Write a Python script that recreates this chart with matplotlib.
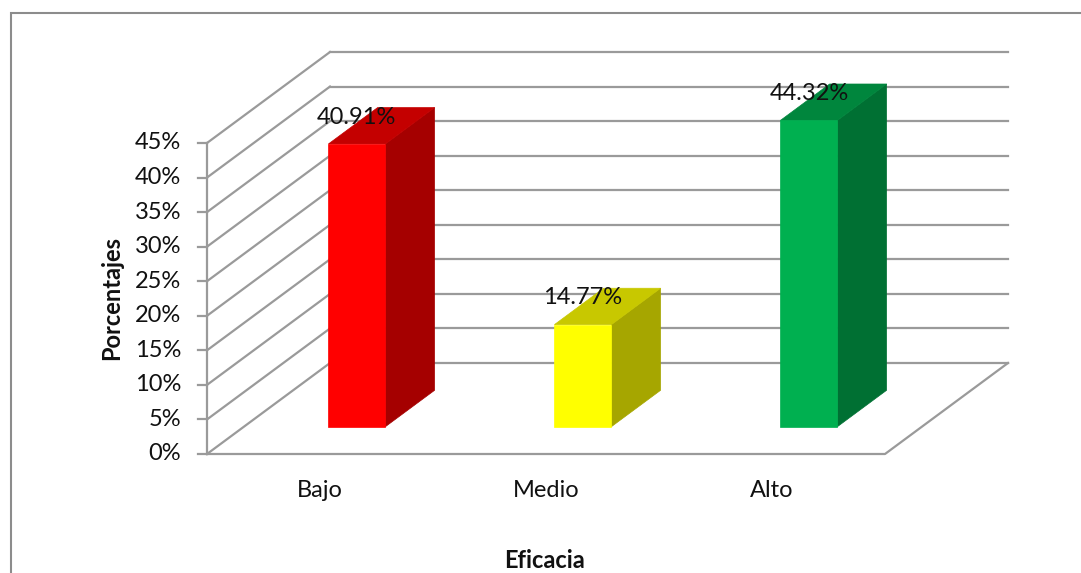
import matplotlib
matplotlib.use("Agg")
import matplotlib.pyplot as plt
from matplotlib.patches import Polygon, Rectangle

# ---- data ----
categories = ["Bajo", "Medio", "Alto"]
values = [40.91, 14.77, 44.32]
value_labels = ["40.91%", "14.77%", "44.32%"]
ticks = [0, 5, 10, 15, 20, 25, 30, 35, 40, 45]
tick_labels = ["0%", "5%", "10%", "15%", "20%", "25%", "30%", "35%", "40%", "45%"]
front_colors = ["#FF0000", "#FFFF00", "#00B050"]
side_colors = ["#A50000", "#A6A600", "#007033"]
top_colors = ["#C40000", "#C8C800", "#00863D"]

plt.rcParams['font.family'] = ['Lato', 'DejaVu Sans']
FS = 17

W, H = 1081, 573
fig = plt.figure(figsize=(W / 100, H / 100), dpi=100)

# outer chart border
fig.patches.append(Rectangle((11 / W, -0.1), 1.2, (573 - 13) / H + 0.1,
                             transform=fig.transFigure, fill=False,
                             edgecolor="#8C8C8C", linewidth=1.5))

# front plane of the plot in pixels: x 207..885, y 454 (0%) .. 143 (45%)
ax = fig.add_axes([207 / W, (H - 454) / H, 678 / W, 311 / H])
ax.set_xlim(-0.5, 2.5)
ax.set_ylim(0, 45)
ax.axis("off")

# oblique depth projection (full depth in data units)
DX = 123 / 226.0      # categories
DY = 91 / (311 / 45)  # percent


def P(x, y, d):
    return (x + d * DX, y + d * DY)


grid_kw = dict(color="#9A9A9A", linewidth=1.6, clip_on=False, zorder=1)
xmin, xmax = -0.5, 2.5
# back wall gridlines and left wall diagonals
for t in ticks:
    a = P(xmin, t, 0)
    b = P(xmin, t, 1)
    c = P(xmax, t, 1)
    ax.plot([a[0], b[0]], [a[1], b[1]], **grid_kw)
    ax.plot([b[0], c[0]], [b[1], c[1]], **grid_kw)
# floor front edge & right edge
a = P(xmin, 0, 0); b = P(xmax, 0, 0); c = P(xmax, 0, 1)
ax.plot([a[0], b[0], c[0]], [a[1], b[1], c[1]], **grid_kw)
# front vertical axis
ax.plot([xmin, xmin], [0, 45], **grid_kw)
# tick marks and labels
for t, lab in zip(ticks, tick_labels):
    ax.plot([xmin - 0.04, xmin], [t, t], **grid_kw)
    ax.text(xmin - 0.115, t, lab, ha="right", va="center", fontsize=FS,
            color="#111111")

# bars
d0, d1 = 0.30, 0.70
bw = 0.252
for i, (v, fc, sc, tc, lab) in enumerate(zip(values, front_colors, side_colors,
                                             top_colors, value_labels)):
    x0, x1 = i - bw / 2, i + bw / 2
    front = [P(x0, 0, d0), P(x1, 0, d0), P(x1, v, d0), P(x0, v, d0)]
    side = [P(x1, 0, d0), P(x1, 0, d1), P(x1, v, d1), P(x1, v, d0)]
    top = [P(x0, v, d0), P(x1, v, d0), P(x1, v, d1), P(x0, v, d1)]
    for poly, col in ((side, sc), (top, tc), (front, fc)):
        ax.add_patch(Polygon(poly, closed=True, facecolor=col, edgecolor=col,
                             linewidth=0.5, clip_on=False, zorder=3))
    cx, cy = P(i, v, d0)
    ax.text(cx, cy + 3.9, lab, ha="center", va="center", fontsize=FS,
            color="#111111", zorder=5)
    ax.text(i, -5.3, categories[i], ha="center", va="center", fontsize=FS,
            color="#111111")

fig.text(545 / W, 1 - 560 / H, "Eficacia", ha="center", va="center",
         fontsize=FS, fontweight="bold", color="#111111")
fig.text(112 / W, 1 - 298 / H, "Porcentajes", ha="center", va="center",
         rotation=90, fontsize=FS, fontweight="bold", color="#111111")

fig.savefig("out.png", dpi=100, facecolor="white")
